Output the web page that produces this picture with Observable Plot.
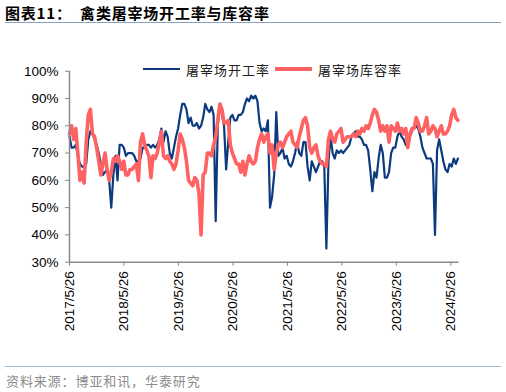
<!DOCTYPE html>
<html><head><meta charset="utf-8">
<script src="https://cdn.jsdelivr.net/npm/d3@7"></script>
<script src="https://cdn.jsdelivr.net/npm/@observablehq/plot@0.6"></script>
<style>
body{margin:0;background:#fff;}
#wrap{position:relative;width:506px;height:392px;overflow:hidden;background:#fff;}
#chart{position:absolute;left:0;top:0;}
#title{position:absolute;left:5px;top:4px;font:bold 15px "Noto Sans CJK SC",sans-serif;color:#000;white-space:nowrap;line-height:18px;letter-spacing:0.8px;}
#tline{position:absolute;left:5px;top:22px;width:496px;height:0;border-top:1.5px solid #8b9fc0;}
#fline{position:absolute;left:5px;top:366px;width:496px;height:0;border-top:1.5px solid #9cb9dc;}
#source{position:absolute;left:6px;top:371px;font:13px "Noto Sans CJK SC",sans-serif;color:#8c8c8c;letter-spacing:0.9px;white-space:nowrap;}
.lg{position:absolute;top:60px;font:13px "Noto Sans CJK SC",sans-serif;color:#222;white-space:nowrap;letter-spacing:1px;}
.sw{position:absolute;height:0;}
</style></head>
<body>
<div id="wrap">
  <div id="chart"></div>
  <div id="title">图表11：&nbsp;&nbsp;禽类屠宰场开工率与库容率</div>
  <div id="tline"></div>
  <div class="sw" style="left:143px;top:68px;width:37px;border-top:2.5px solid #0b3a7e;"></div>
  <div class="lg" style="left:186px;">屠宰场开工率</div>
  <div class="sw" style="left:275px;top:67px;width:37px;border-top:4px solid #ff6262;"></div>
  <div class="lg" style="left:318px;">屠宰场库容率</div>
  <div id="fline"></div>
  <div id="source">资料来源：博亚和讯，华泰研究</div>
</div>
<script>
// biweekly observations starting 2017-05-26
const startDate = "2017-05-26";
const stepDays = 14;
const endDate = "2024-07-19";
const tickLabels = ["2017-05-26","2018-05-26","2019-05-26","2020-05-26","2021-05-26","2022-05-26","2023-05-26","2024-05-26"];
const yTicks = [0.3,0.4,0.5,0.6,0.7,0.8,0.9,1.0];
const seriesNames = ["屠宰场开工率","屠宰场库容率"];

// 屠宰场开工率 (%)
const operatingRate = [
76,72,72,73,69,66,65,65,66,75,
78,77,75,73,70,66,62,63,64,60,
50,62,69,60,73,73,72,69,70,70,
70,69,67,67,68,72,72,73,73,72,
73,72,73,75,79,74,78,76,70,68,
72,76,79,84,88,88,86,81,83,80,
80,81,79,80,83,88,86,85,87,84,
45,80,88,84,80,64,74,83,84,82,
82,84,84,85,88,90,89,91,90,91,
89,81,78,79,78,82,50,54,62,85,
69,70,72,68,69,66,65,67,70,74,
70,69,74,74,65,60,67,65,63,65,
67,67,65,35,67,76,70,68,71,70,
71,70,71,72,73,76,77,78,76,76,
75,73,73,71,64,56,63,61,68,73,
70,61,61,63,70,72,72,76,78,76,
75,73,72,76,78,80,80,79,76,72,
70,68,68,68,66,40,71,75,71,67,
64,63,66,65,68,66,68];

// 屠宰场库容率 (%)
const storageRate = [
77,80,75,79,70,60,63,59,74,84,
86,77,76,72,67,62,66,70,64,60,
63,68,67,69,67,64,67,62,62,64,
64,65,66,60,74,77,73,71,69,61,
69,68,70,74,78,69,68,69,67,66,
64,66,71,77,75,72,67,60,59,58,
61,60,55,40,62,63,70,70,69,73,
76,82,88,86,81,81,82,73,70,68,
66,66,63,67,62,66,69,67,66,67,
72,75,77,74,76,77,70,73,64,70,
73,74,72,74,76,77,78,74,73,72,
76,79,82,83,80,72,70,72,73,69,
67,66,66,65,75,78,75,74,77,78,
79,74,75,76,76,76,77,76,78,77,
79,78,80,79,81,84,86,85,82,78,
80,78,80,74,80,79,78,81,78,79,
77,79,72,77,79,79,83,81,78,78,
80,83,77,78,80,79,76,78,80,77,
77,78,80,84,86,83,82];

const t0 = new Date(startDate);
const dates = d3.range(operatingRate.length).map(i => d3.utcDay.offset(t0, i * stepDays));
const opData = operatingRate.map((v, i) => ({date: dates[i], v: v / 100, s: seriesNames[0]}));
const stData = storageRate.map((v, i) => ({date: dates[i], v: v / 100, s: seriesNames[1]}));
const ticks = tickLabels.map(d => new Date(d));
const fmt = d3.utcFormat("%Y/%-m/%-d");

const chart = Plot.plot({
  width: 506,
  height: 392,
  marginLeft: 69,
  marginRight: 47.5,
  marginTop: 70.7,
  marginBottom: 130.3,
  style: {background: "transparent", fontFamily: "'Liberation Sans', Arial, sans-serif"},
  x: {type: "utc", domain: [t0, new Date(endDate)]},
  y: {domain: [0.3, 1.0]},
  marks: [
    Plot.lineY(opData, {x: "date", y: "v", stroke: "#0b3a7e", strokeWidth: 2.2, strokeLinejoin: "round"}),
    Plot.lineY(stData, {x: "date", y: "v", stroke: "#ff6262", strokeWidth: 3.6, strokeLinejoin: "round"}),
    Plot.ruleX([t0], {stroke: "#8a8a8a", strokeWidth: 1.5}),
    Plot.ruleY([0.3], {stroke: "#8a8a8a", strokeWidth: 1.5}),
    Plot.axisY({ticks: yTicks, tickFormat: d => Math.round(d * 100) + "%", tickSize: 4, tickPadding: 7, fontSize: 13.5, stroke: "#8a8a8a", fill: "#000", label: null}),
    Plot.axisX({ticks: ticks, tickFormat: fmt, tickRotate: -90, tickSize: 4, tickPadding: 5, fontSize: 13.5, stroke: "#8a8a8a", fill: "#000", label: null})
  ]
});
document.getElementById("chart").appendChild(chart);
</script>
</body></html>
